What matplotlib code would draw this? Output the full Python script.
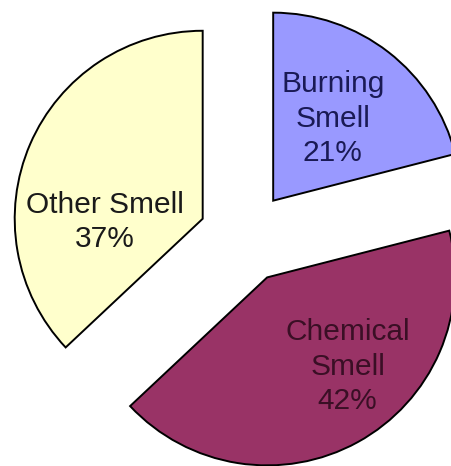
import math
import matplotlib.pyplot as plt

labels = ['Burning\nSmell', 'Chemical\nSmell', 'Other Smell']
shares = [21, 42, 37]
colors = ['#9999FF', '#993366', '#FFFFCC']
text_colors = ['#1a1a55', '#3a0f25', '#1a1a1a']

# where each label sits, relative to its slice tip (angle in deg, distance in radii)
label_pos = [(54, 0.54), (-48, 0.64), (182, 0.52)]

fig = plt.figure(figsize=(4.51, 4.66), dpi=100)
ax = fig.add_axes([0, 0, 1, 1])

wedges, _ = ax.pie(shares, colors=colors, startangle=90, counterclock=False,
                   radius=1.0, explode=[0.245] * 3,
                   wedgeprops=dict(edgecolor='black', linewidth=1.4))

for w, lab, pct, tc, (ang, dist) in zip(wedges, labels, shares, text_colors, label_pos):
    cx, cy = w.center
    a = math.radians(ang)
    ax.text(cx + dist * math.cos(a), cy + dist * math.sin(a), f'{lab}\n{pct}%',
            ha='center', va='center', fontsize=21.5, color=tc,
            family='Liberation Sans', linespacing=1.3)

ax.set_xlim(-1.303, 1.096)
ax.set_ylim(-1.218, 1.261)
ax.set_aspect('equal')
ax.axis('off')

fig.savefig('out.png', dpi=100)
